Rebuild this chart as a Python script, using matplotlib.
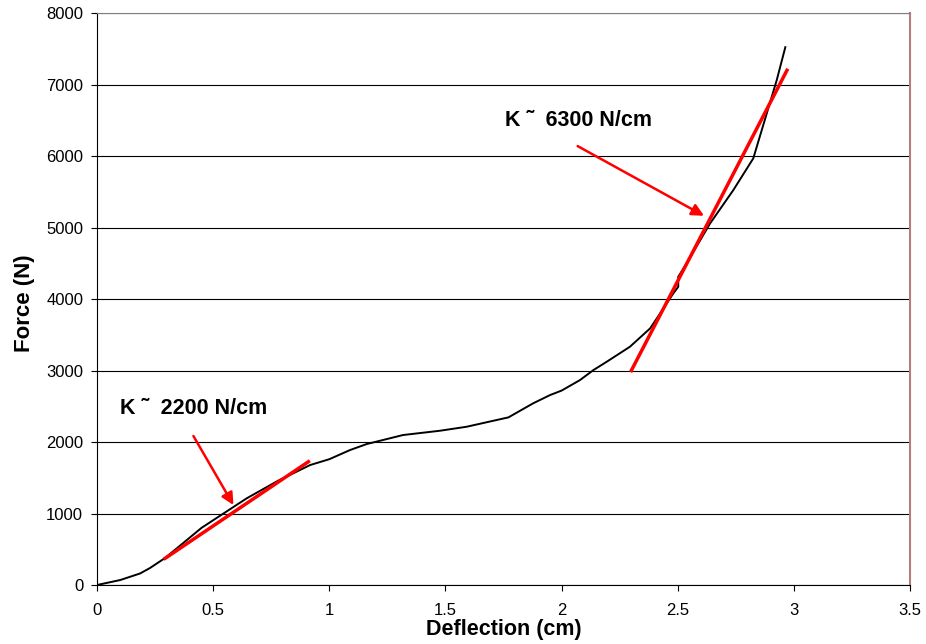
import matplotlib
matplotlib.use('Agg')
import matplotlib.pyplot as plt

# curve
deflection = [0.0, 0.1, 0.185, 0.228, 0.293, 0.45, 0.644, 0.78, 0.917, 1.0, 1.089, 1.161,
              1.317, 1.476, 1.591, 1.771, 1.877, 1.95, 2.0, 2.079, 2.137, 2.194, 2.294,
              2.381, 2.424, 2.481, 2.502, 2.502, 2.538, 2.639, 2.739, 2.825, 2.883,
              2.926, 2.963]
force = [0, 70, 161, 238, 378, 800, 1212, 1460, 1678, 1760, 1888, 1972,
         2098, 2158, 2214, 2345, 2541, 2657, 2720, 2867, 3007, 3123, 3333,
         3590, 3800, 4080, 4172, 4312, 4499, 5058, 5524, 5968, 6597,
         7063, 7524]

# fitted stiffness lines
fit1_x = [0.293, 0.91]
fit1_y = [373, 1725]
fit2_x = [2.30, 2.97]
fit2_y = [3000, 7200]

plt.rcParams['font.family'] = ['Liberation Sans', 'DejaVu Sans']

fig = plt.figure(figsize=(9.26, 6.44), dpi=100)
ax = fig.add_axes([0.1048, 0.0916, 0.878, 0.888])

ax.plot(deflection, force, color='black', lw=1.4, zorder=3)
ax.plot(fit1_x, fit1_y, color='red', lw=2.5, zorder=4)
ax.plot(fit2_x, fit2_y, color='red', lw=2.5, zorder=4)

ax.annotate('', xy=(0.587, 1119), xytext=(0.415, 2084),
            arrowprops=dict(arrowstyle='-|>', color='red', lw=1.8,
                            mutation_scale=18, shrinkA=0, shrinkB=0))
ax.annotate('', xy=(2.613, 5165), xytext=(2.069, 6140),
            arrowprops=dict(arrowstyle='-|>', color='red', lw=1.8,
                            mutation_scale=18, shrinkA=0, shrinkB=0))

ax.text(0.099, 2476, 'K \u02dc  2200 N/cm', fontsize=15.5, fontweight='bold',
        va='center', ha='left')
ax.text(1.756, 6503, 'K \u02dc  6300 N/cm', fontsize=15.5, fontweight='bold',
        va='center', ha='left')

ax.set_xlim(0, 3.5)
ax.set_ylim(0, 8000)
ax.set_xticks([0, 0.5, 1, 1.5, 2, 2.5, 3, 3.5])
ax.set_xticklabels(['0', '0.5', '1', '1.5', '2', '2.5', '3', '3.5'])
ax.set_yticks(range(0, 8001, 1000))
ax.yaxis.grid(True, color='black', lw=0.8)
ax.set_axisbelow(True)
ax.tick_params(direction='out', length=4, labelsize=12, width=0.8)
ax.tick_params(axis='x', pad=9)
ax.tick_params(axis='y', pad=6)

ax.spines['top'].set_color('#808080')
ax.spines['right'].set_color('#b87c7c')
ax.spines['right'].set_linewidth(1.5)

ax.set_xlabel('Deflection (cm)', fontsize=15.5, fontweight='bold', labelpad=1)
ax.set_ylabel('Force (N)', fontsize=16, fontweight='bold')
ax.yaxis.set_label_coords(-0.076, 0.493)

fig.savefig('out.png', dpi=100)
